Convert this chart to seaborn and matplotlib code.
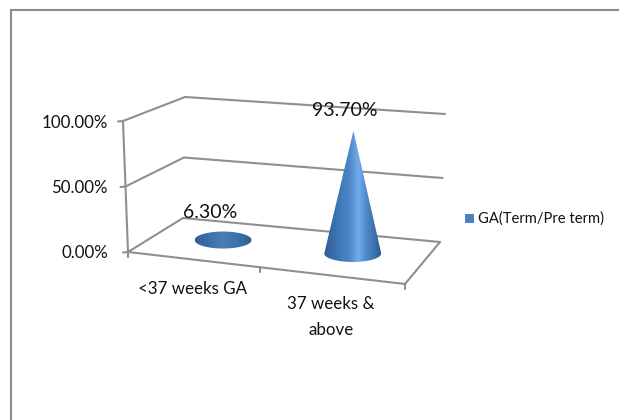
import numpy as np
import pandas as pd
import matplotlib
matplotlib.use("Agg")
import matplotlib.pyplot as plt
from matplotlib.colors import LinearSegmentedColormap
from matplotlib.patches import Polygon, Rectangle
import seaborn as sns

categories = ["<37 weeks GA", "37 weeks &\nabove"]
values = [6.30, 93.70]
value_labels = ["6.30%", "93.70%"]
series_name = "GA(Term/Pre term)"
axis_ticks = [0, 50, 100]
axis_tick_labels = ["0.00%", "50.00%", "100.00%"]

sns.set_theme(style="white")
plt.rcParams["font.family"] = ["Lato", "DejaVu Sans"]

W, H = 619, 420
fig = plt.figure(figsize=(W / 100, H / 100), dpi=100)
ax = fig.add_axes([0, 0, 1, 1])
ax.set_xlim(0, W)
ax.set_ylim(H, 0)
ax.axis("off")

# Corners of the tilted plot box, in canvas units
FL0, BL0, BR0, FR0 = map(np.array, [(128, 252), (183, 218), (440, 242), (405, 284)])
FL1, BL1, BR1, FR1 = map(np.array, [(123, 121), (185, 97), (445, 114), (402, 145)])


def project(u, v, d):
    """Map category fraction u, value v (percent) and depth d onto the canvas."""
    t = v / 100
    front0 = FL0 + (FR0 - FL0) * u
    back0 = BL0 + (BR0 - BL0) * u
    front1 = FL1 + (FR1 - FL1) * u
    back1 = BL1 + (BR1 - BL1) * u
    bottom = front0 + (back0 - front0) * d
    top = front1 + (back1 - front1) * d
    return bottom + (top - bottom) * t


GREY = "#8f8f8f"
TEXT = "#111111"


def seg(p, q, lw=1.5):
    frame = pd.DataFrame({"x": [p[0], q[0]], "y": [p[1], q[1]]})
    sns.lineplot(data=frame, x="x", y="y", ax=ax, color=GREY, lw=lw,
                 estimator=None, sort=False, legend=False)


# Outer chart frame
ax.plot([11, 11], [H, 10], color="#8c8c8c", lw=1.5, solid_capstyle="butt")
ax.plot([10, W], [10, 10], color="#8c8c8c", lw=1.5, solid_capstyle="butt")

# Walls, gridlines and value axis
for tick, tick_label in zip(axis_ticks, axis_tick_labels):
    seg(project(0, tick, 0), project(0, tick, 1))
    seg(project(0, tick, 1), project(1, tick, 1))
    tip = project(0, tick, 0)
    seg(tip + np.array([-5, 0.5]), tip)
    ax.text(108, tip[1] + 1.5, tick_label, ha="right", va="center",
            fontsize=12.2, color=TEXT)
seg(project(0, 0, 0), project(0, 100, 0))

# Floor edges and category ticks; the middle tick sits forward of centre by perspective
seg(project(0, 0, 0), project(1, 0, 0))
seg(project(1, 0, 0), project(1, 0, 1))
for u in (0, 0.478, 1):
    p = project(u, 0, 0)
    seg(p, p + np.array([0, 5]))

# Cones
cone_cmap = LinearSegmentedColormap.from_list(
    "cone", [(0, "#2d5c94"), (0.22, "#3d73b1"), (0.45, "#4d87c8"), (0.6, "#72acee"),
             (0.75, "#4f88c8"), (0.9, "#3a6ea8"), (1, "#2d5c94")])
disc_cmap = LinearSegmentedColormap.from_list(
    "disc", ["#2f6098", "#3d70a8", "#4a7fb6", "#3d70a8", "#2f6098"])
RX, RY = 28.5, 8.5
DEPTH = 0.55
angles = np.linspace(0, np.pi, 60)
n = len(categories)
for i, (val, lab) in enumerate(zip(values, value_labels)):
    u = (i + 0.5) / n * 0.975
    base = project(u, 0, DEPTH)
    apex = project(u, val, DEPTH)
    rim = np.column_stack([base[0] + RX * np.cos(angles), base[1] + RY * np.sin(angles)])
    if apex[1] < base[1] - RY:
        outline = np.vstack([rim, apex])
    else:
        full = np.linspace(0, 2 * np.pi, 120)
        outline = np.column_stack([base[0] + RX * np.cos(full), base[1] + RY * np.sin(full)])
    clip = Polygon(outline, closed=True, transform=ax.transData, fc="none", ec="none")
    ax.add_patch(clip)
    grad = np.linspace(0, 1, 256).reshape(1, -1)
    top = min(apex[1], base[1] - RY) - 1
    im = ax.imshow(grad, cmap=cone_cmap if val > 50 else disc_cmap, aspect="auto",
                   extent=[base[0] - RX, base[0] + RX, base[1] + RY + 1, top], zorder=3)
    im.set_clip_path(clip)
    ax.text(345 if val > 50 else 210, 111 if val > 50 else 212, lab,
            ha="center", va="center", fontsize=14, color=TEXT, zorder=4)
ax.set_xlim(0, W)
ax.set_ylim(H, 0)

# Category labels
ax.text(193, 289, categories[0], ha="center", va="center", fontsize=12.2, color=TEXT)
ax.text(331, 317, categories[1], ha="center", va="center", fontsize=12.2, color=TEXT,
        linespacing=1.7)

# Legend
ax.add_patch(Rectangle((465, 214), 9, 9, fc="#4f81bd", ec="none"))
ax.text(478, 219, series_name, ha="left", va="center", fontsize=10.6, color=TEXT)

fig.savefig("out.png", dpi=100)
